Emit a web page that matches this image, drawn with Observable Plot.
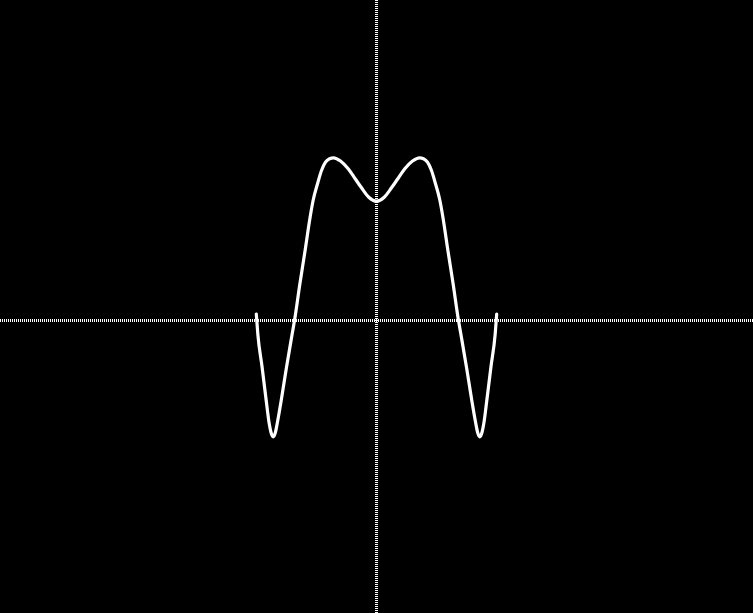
<!DOCTYPE html>
<html>
<head>
<meta charset="utf-8">
<script src="https://cdn.jsdelivr.net/npm/d3@7"></script>
<script src="https://cdn.jsdelivr.net/npm/@observablehq/plot@0.6"></script>
<style>
  html, body { margin: 0; padding: 0; background: #000; overflow: hidden; }
  #chart svg { display: block; }
</style>
</head>
<body>
<div id="chart"></div>
<script>
// Curve samples (x, y in chart units)
const curveX = [-3.005, -2.9675, -2.86, -2.7575, -2.6825, -2.64, -2.5825, -2.525, -2.4825, -2.3825, -2.25, -2.1075, -2.05,
  -1.915, -1.785, -1.66, -1.585, -1.475, -1.375, -1.275, -1.175, -1.075, -0.9, -0.7075, -0.5375, -0.375, -0.1925, 0,
  0.1925, 0.375, 0.5375, 0.7075, 0.9, 1.075, 1.175, 1.275, 1.375, 1.475, 1.585, 1.66, 1.785, 1.915,
  2.05, 2.1075, 2.25, 2.3825, 2.4825, 2.525, 2.5825, 2.64, 2.6825, 2.7575, 2.86, 2.9675, 3.005];
const curveY = [0.1625, -0.3325, -1.1675, -2.0, -2.575, -2.7875, -2.9075, -2.7875, -2.575, -2.0, -1.1675, -0.3325, 0,
  0.9175, 1.75, 2.5825, 3.0, 3.4175, 3.75, 3.9575, 4.045, 4.0675, 3.9875, 3.7925, 3.55, 3.3175, 3.0825, 2.9825,
  3.0825, 3.3175, 3.55, 3.7925, 3.9875, 4.0675, 4.045, 3.9575, 3.75, 3.4175, 3.0, 2.5825, 1.75, 0.9175,
  0, -0.3325, -1.1675, -2.0, -2.575, -2.7875, -2.9075, -2.7875, -2.575, -2.0, -1.1675, -0.3325, 0.1625];

const xDomain = [-9.4, 9.425];
const yDomain = [-7.325, 8];

const pts = curveX.map((x, i) => ({x, y: curveY[i]}));

const chart = Plot.plot({
  width: 753,
  height: 613,
  margin: 0,
  style: {background: "#000", color: "#fff"},
  x: {domain: xDomain, axis: null},
  y: {domain: yDomain, axis: null},
  marks: [
    Plot.ruleY([0], {stroke: "#fff", strokeWidth: 3, strokeDasharray: "1,1"}),
    Plot.ruleX([0], {stroke: "#fff", strokeWidth: 3, strokeDasharray: "1,1"}),
    Plot.line(pts, {x: "x", y: "y", stroke: "#fff", strokeWidth: 3.2, curve: "monotone-x"})
  ]
});
document.getElementById("chart").append(chart);
</script>
</body>
</html>
